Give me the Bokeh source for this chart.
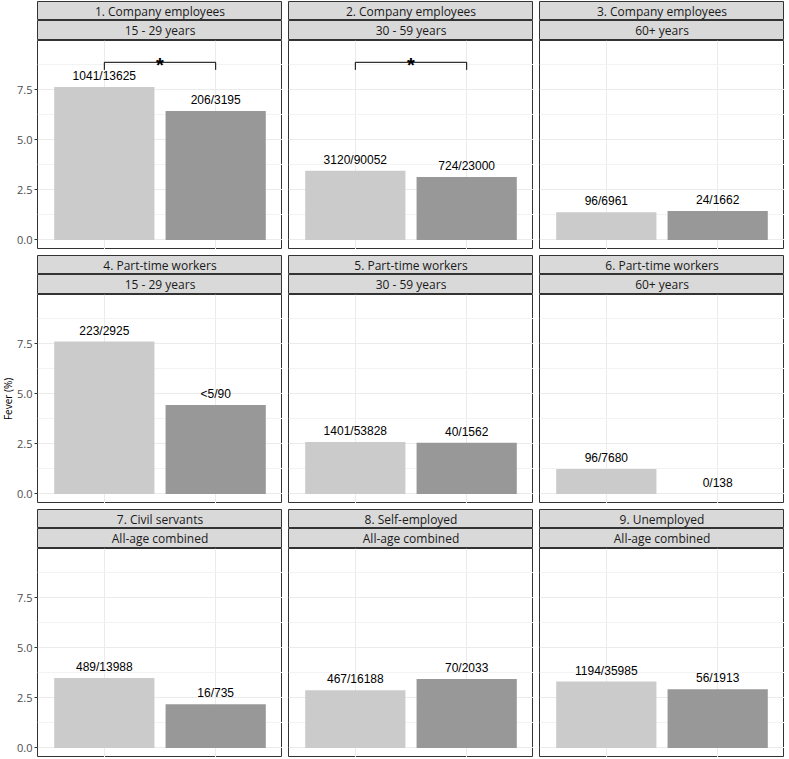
from bokeh.plotting import figure
from bokeh.layouts import column, row
from bokeh.models import Range1d, FixedTicker, PrintfTickFormatter, Label
from bokeh.core.properties import value
from bokeh.embed import file_html
from bokeh.resources import INLINE

# ---- data ----
group_titles = ["1. Company employees", "2. Company employees", "3. Company employees",
                "4. Part-time workers", "5. Part-time workers", "6. Part-time workers",
                "7. Civil servants", "8. Self-employed", "9. Unemployed"]
age_titles = ["15 - 29 years", "30 - 59 years", "60+ years",
              "15 - 29 years", "30 - 59 years", "60+ years",
              "All-age combined", "All-age combined", "All-age combined"]
fever_a = [7.64, 3.46, 1.38, 7.62, 2.60, 1.25, 3.50, 2.88, 3.32]
fever_b = [6.45, 3.15, 1.44, 4.44, 2.56, 0.00, 2.18, 3.44, 2.93]
label_a = ["1041/13625", "3120/90052", "96/6961", "223/2925", "1401/53828", "96/7680",
           "489/13988", "467/16188", "1194/35985"]
label_b = ["206/3195", "724/23000", "24/1662", "<5/90", "40/1562", "0/138",
           "16/735", "70/2033", "56/1913"]
significant = [True, True, False, False, False, False, False, False, False]
bracket_low, bracket_high = 8.5, 8.88
y_ticks = [0, 2.5, 5.0, 7.5]
y_minor = [1.25, 3.75, 6.25, 8.75]
y_title = "Fever (%)"

# ---- style ----
FRAME_W, FRAME_H = 245, 209
STRIP1_H, STRIP2_H = 19, 20
TOP = 1
TITLE_W = 14
LEFT = 37 - TITLE_W
GAP = 6
UI_FONT = "Open Sans"
LBL_FONT = "Liberation Sans"
BORDER = "#333333"
STRIP_BG = "#D9D9D9"
BAR_COLORS = ["#CBCBCB", "#989898"]


def strip(text, first, h, top):
    s = figure(frame_width=FRAME_W, frame_height=h, min_border=0,
               min_border_left=LEFT if first else 0, min_border_top=top,
               x_range=Range1d(0, 1), y_range=Range1d(0, 1),
               x_axis_location=None, y_axis_location=None,
               toolbar_location=None, output_backend="svg")
    s.grid.visible = False
    s.background_fill_color = STRIP_BG
    s.border_fill_color = "white"
    s.outline_line_color = BORDER
    s.outline_line_width = 1
    s.add_layout(Label(x=0.5, y=0.5, text=text, text_align="center",
                       text_baseline="middle", text_font=UI_FONT,
                       text_font_size="12px", text_color="#1A1A1A"))
    return s


def panel(k, first):
    p = figure(frame_width=FRAME_W, frame_height=FRAME_H, min_border=0,
               min_border_left=LEFT if first else 0,
               x_range=Range1d(0.4, 2.6), y_range=Range1d(-0.48, 9.97),
               x_axis_location=None,
               y_axis_location="left" if first else None,
               toolbar_location=None, output_backend="svg")
    p.background_fill_color = "white"
    p.border_fill_color = "white"
    p.outline_line_color = BORDER
    p.outline_line_width = 1
    p.xgrid.ticker = FixedTicker(ticks=[1, 2])
    p.xgrid.grid_line_color = "#EBEBEB"
    p.ygrid.ticker = FixedTicker(ticks=y_ticks, minor_ticks=y_minor)
    p.ygrid.grid_line_color = "#EBEBEB"
    p.ygrid.minor_grid_line_color = "#F3F3F3"
    if first:
        ax = p.yaxis[0]
        ax.ticker = FixedTicker(ticks=y_ticks, minor_ticks=[])
        ax.formatter = PrintfTickFormatter(format="%.1f")
        ax.axis_line_color = None
        ax.major_tick_line_color = BORDER
        ax.major_tick_out = 3
        ax.major_tick_in = 0
        ax.minor_tick_line_color = None
        ax.major_label_standoff = 2
        ax.major_label_text_font = UI_FONT
        ax.major_label_text_font_size = "11px"
        ax.major_label_text_color = "#4D4D4D"
    xs = [1, 2]
    p.vbar(x=xs, top=[fever_a[k], fever_b[k]], bottom=0, width=0.9,
           fill_color=BAR_COLORS, line_color=None)
    p.text(x=xs, y=[fever_a[k], fever_b[k]], text=[label_a[k], label_b[k]],
           y_offset=-4, text_align="center", text_baseline="bottom",
           text_font=value(LBL_FONT), text_font_size="12px", text_color="#000000")
    if significant[k]:
        p.line(x=[1, 1, 2, 2], y=[bracket_low, bracket_high, bracket_high, bracket_low],
               line_color="black", line_width=1)
        p.text(x=[1.5], y=[bracket_high], text=["*"], text_align="center",
               text_baseline="alphabetic", y_offset=3,
               text_font=value(LBL_FONT), text_font_style="bold",
               text_font_size="20px", text_color="#000000")
    return p


rows = []
for r in range(3):
    cols = []
    for c in range(3):
        k = r * 3 + c
        first = c == 0
        top = TOP if r == 0 else 0
        cols.append(column(strip(group_titles[k], first, STRIP1_H, top),
                           strip(age_titles[k], first, STRIP2_H, 0),
                           panel(k, first), spacing=0))
    rows.append(row(cols, spacing=GAP))
grid = column(rows, spacing=GAP)

# y-axis title spanning the whole height, centred on the middle row's panel
row_h = STRIP1_H + STRIP2_H + FRAME_H
total_h = TOP + 3 * row_h + 2 * GAP
mid_y = TOP + row_h + GAP + STRIP1_H + STRIP2_H + FRAME_H / 2
t = figure(width=TITLE_W, height=total_h, min_border=0,
           x_range=Range1d(0, 1), y_range=Range1d(0, total_h),
           x_axis_location=None, y_axis_location=None,
           toolbar_location=None, output_backend="svg")
t.grid.visible = False
t.outline_line_color = None
t.background_fill_color = "white"
t.border_fill_color = "white"
t.add_layout(Label(x=0.55, y=total_h - mid_y, text=y_title, angle=90, angle_units="deg",
                   text_align="center", text_baseline="middle", text_font=UI_FONT,
                   text_font_size="10px", text_color="#000000"))

layout = row(t, grid, spacing=0)

open("out.html", "w").write(file_html(layout, INLINE))
